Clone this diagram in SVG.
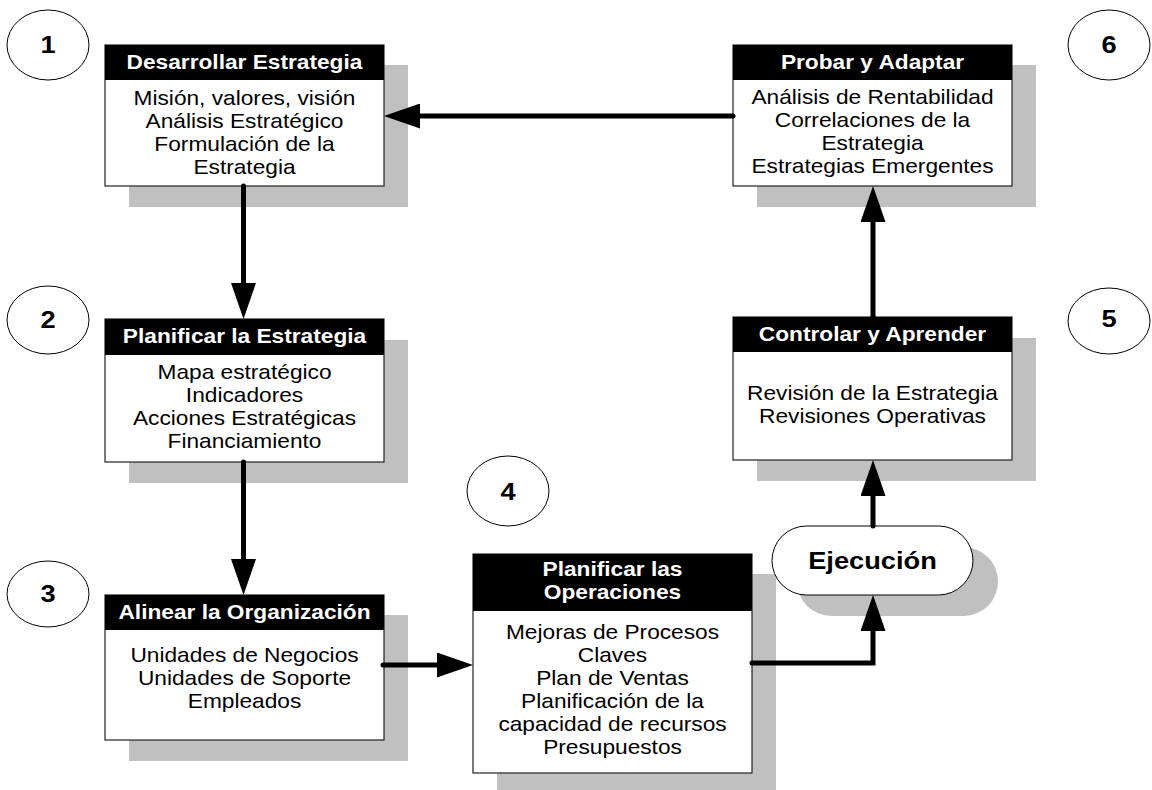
<svg xmlns="http://www.w3.org/2000/svg" width="1152" height="790" viewBox="0 0 1152 790">
<style>
.sh{fill:#c0c0c0}
.bx{fill:#fff;stroke:#222;stroke-width:1.2}
.hd{fill:#000}
.ht{font-family:"Liberation Sans",Arial,sans-serif;font-size:20px;font-weight:bold;fill:#fff;text-anchor:middle}
.bt{font-family:"Liberation Sans",Arial,sans-serif;font-size:20px;fill:#000;text-anchor:middle}
.nt{font-family:"Liberation Sans",Arial,sans-serif;font-size:24px;font-weight:bold;fill:#000;text-anchor:middle}
.el{fill:#fff;stroke:#000;stroke-width:1}
.cn{fill:none;stroke:#000;stroke-width:5;stroke-linecap:round;stroke-linejoin:miter}
</style>
<defs>
<marker id="ah" viewBox="0 0 36 25" refX="8" refY="12.5" markerWidth="36" markerHeight="25" markerUnits="userSpaceOnUse" orient="auto">
<path d="M0,0 L36,12.5 L0,25 z" fill="#000"/>
</marker>
</defs>
<rect width="1152" height="790" fill="#fff"/>

<g id="n1">
<rect class="sh" x="129" y="65" width="279" height="142"/>
<rect class="bx" x="105" y="45" width="279" height="141"/>
<rect class="hd" x="105" y="45" width="279" height="35"/>
<g transform="translate(244.5,0) scale(1.135,1)">
<text class="ht" x="0" y="69">Desarrollar Estrategia</text>
<text class="bt" x="0" y="105">Misión, valores, visión</text>
<text class="bt" x="0" y="128">Análisis Estratégico</text>
<text class="bt" x="0" y="151">Formulación de la</text>
<text class="bt" x="0" y="174">Estrategia</text>
</g>
</g>

<g id="n2">
<rect class="sh" x="129" y="340" width="279" height="143"/>
<rect class="bx" x="105" y="319" width="279" height="143"/>
<rect class="hd" x="105" y="319" width="279" height="36"/>
<g transform="translate(244.5,0) scale(1.135,1)">
<text class="ht" x="0" y="343">Planificar la Estrategia</text>
<text class="bt" x="0" y="379">Mapa estratégico</text>
<text class="bt" x="0" y="402">Indicadores</text>
<text class="bt" x="0" y="425">Acciones Estratégicas</text>
<text class="bt" x="0" y="448">Financiamiento</text>
</g>
</g>

<g id="n3">
<rect class="sh" x="129" y="615" width="279" height="146"/>
<rect class="bx" x="105" y="595" width="279" height="145"/>
<rect class="hd" x="105" y="595" width="279" height="35"/>
<g transform="translate(244.5,0) scale(1.135,1)">
<text class="ht" x="0" y="619">Alinear la Organización</text>
<text class="bt" x="0" y="662">Unidades de Negocios</text>
<text class="bt" x="0" y="685">Unidades de Soporte</text>
<text class="bt" x="0" y="708">Empleados</text>
</g>
</g>

<g id="n4">
<rect class="sh" x="497" y="574" width="279" height="230"/>
<rect class="bx" x="473" y="554" width="279" height="219"/>
<rect class="hd" x="473" y="554" width="279" height="57"/>
<g transform="translate(612.5,0) scale(1.135,1)">
<text class="ht" x="0" y="576">Planificar las</text>
<text class="ht" x="0" y="599">Operaciones</text>
<text class="bt" x="0" y="639">Mejoras de Procesos</text>
<text class="bt" x="0" y="662">Claves</text>
<text class="bt" x="0" y="685">Plan de Ventas</text>
<text class="bt" x="0" y="708">Planificación de la</text>
<text class="bt" x="0" y="731">capacidad de recursos</text>
<text class="bt" x="0" y="754">Presupuestos</text>
</g>
</g>

<g id="n5">
<rect class="sh" x="757" y="338" width="279" height="143"/>
<rect class="bx" x="733" y="317" width="279" height="143"/>
<rect class="hd" x="733" y="317" width="279" height="35"/>
<g transform="translate(872.5,0) scale(1.135,1)">
<text class="ht" x="0" y="341">Controlar y Aprender</text>
<text class="bt" x="0" y="400">Revisión de la Estrategia</text>
<text class="bt" x="0" y="423">Revisiones Operativas</text>
</g>
</g>

<g id="n6">
<rect class="sh" x="757" y="65" width="279" height="142"/>
<rect class="bx" x="733" y="45" width="279" height="141"/>
<rect class="hd" x="733" y="45" width="279" height="35"/>
<g transform="translate(872.5,0) scale(1.135,1)">
<text class="ht" x="0" y="69">Probar y Adaptar</text>
<text class="bt" x="0" y="104">Análisis de Rentabilidad</text>
<text class="bt" x="0" y="127">Correlaciones de la</text>
<text class="bt" x="0" y="150">Estrategia</text>
<text class="bt" x="0" y="173">Estrategias Emergentes</text>
</g>
</g>

<g id="exec">
<rect class="sh" x="797" y="547" width="201" height="69" rx="34.5"/>
<rect class="el" x="772" y="526" width="201" height="69" rx="34.5"/>
<text class="nt" transform="translate(872.5,0) scale(1.135,1)" x="0" y="569">Ejecución</text>
</g>

<g id="c1">
<ellipse class="el" cx="48" cy="45" rx="41" ry="35"/>
<text class="nt" transform="translate(48,0) scale(1.135,1)" x="0" y="53">1</text>
</g>
<g id="c2">
<ellipse class="el" cx="48" cy="320" rx="41" ry="34"/>
<text class="nt" transform="translate(48,0) scale(1.135,1)" x="0" y="328">2</text>
</g>
<g id="c3">
<ellipse class="el" cx="48" cy="594" rx="41" ry="33"/>
<text class="nt" transform="translate(48,0) scale(1.135,1)" x="0" y="602">3</text>
</g>
<g id="c4">
<ellipse class="el" cx="508" cy="491" rx="41" ry="35"/>
<text class="nt" transform="translate(508,0) scale(1.135,1)" x="0" y="500">4</text>
</g>
<g id="c5">
<ellipse class="el" cx="1109" cy="321" rx="41" ry="33"/>
<text class="nt" transform="translate(1109,0) scale(1.135,1)" x="0" y="327">5</text>
</g>
<g id="c6">
<ellipse class="el" cx="1109" cy="45" rx="41" ry="35"/>
<text class="nt" transform="translate(1109,0) scale(1.135,1)" x="0" y="53">6</text>
</g>

<g id="connectors">
<path class="cn" d="M733,116 H412" marker-end="url(#ah)"/>
<path class="cn" d="M243.5,186 V291" marker-end="url(#ah)"/>
<path class="cn" d="M243.5,462 V567" marker-end="url(#ah)"/>
<path class="cn" d="M383,665 H445" marker-end="url(#ah)"/>
<path class="cn" d="M752,663 H873 V623" marker-end="url(#ah)"/>
<path class="cn" d="M873,526 V488" marker-end="url(#ah)"/>
<path class="cn" d="M873,317 V214" marker-end="url(#ah)"/>
</g>
</svg>
